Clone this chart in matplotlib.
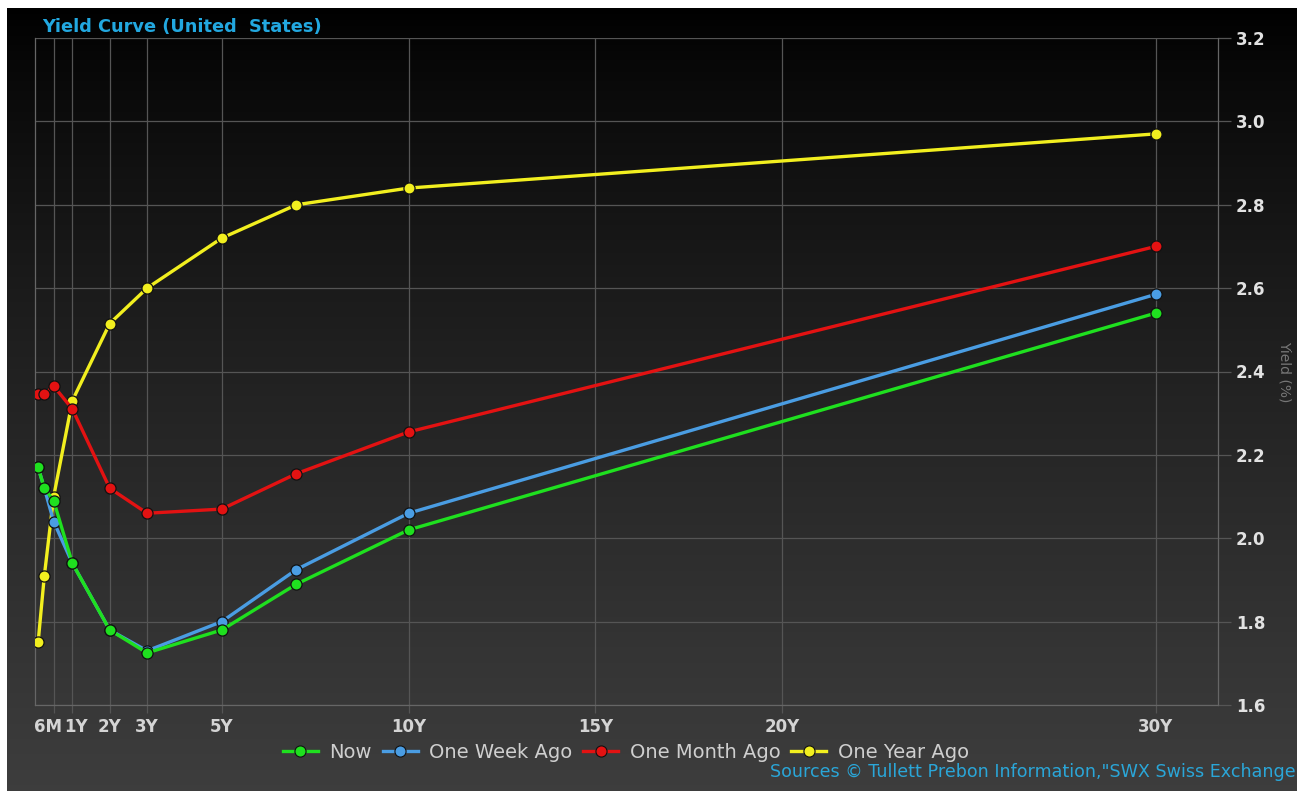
import numpy as np
import matplotlib.pyplot as plt
import matplotlib.transforms as mtransforms
from matplotlib.lines import Line2D

# maturities in years
maturities = [1/12, 0.25, 0.5, 1, 2, 3, 5, 7, 10, 30]

now = [2.17, 2.12, 2.09, 1.94, 1.78, 1.725, 1.78, 1.89, 2.02, 2.54]
week_ago = [2.17, 2.12, 2.04, 1.94, 1.78, 1.73, 1.80, 1.925, 2.06, 2.585]
month_ago = [2.345, 2.345, 2.365, 2.31, 2.12, 2.06, 2.07, 2.155, 2.255, 2.70]
year_ago = [1.75, 1.91, 2.10, 2.33, 2.515, 2.60, 2.72, 2.80, 2.84, 2.97]

tick_pos = [0.5, 1, 2, 3, 5, 10, 15, 20, 30]
tick_labels = ['6M', '1Y', '2Y', '3Y', '5Y', '10Y', '15Y', '20Y', '30Y']
y_ticks = [1.6, 1.8, 2.0, 2.2, 2.4, 2.6, 2.8, 3.0, 3.2]

series = [
    ('Now', now, '#1fe01f'),
    ('One Week Ago', week_ago, '#4a9de3'),
    ('One Month Ago', month_ago, '#e31212'),
    ('One Year Ago', year_ago, '#f2ef1f'),
]

plt.rcParams['font.family'] = ['DejaVu Sans']

W, H = 1297, 791
fig = plt.figure(figsize=(W / 100, H / 100), dpi=100, facecolor='white')

# dark gradient background (white strip left/top like the screenshot)
bg = fig.add_axes([7 / W, 0, 1 - 7 / W, 1 - 8 / H])
grad = np.linspace(0, 1, 256).reshape(-1, 1)
top = np.array([0.0, 0.0, 0.0])
bot = np.array([0.24, 0.24, 0.24])
img = top + (bot - top) * (grad ** 0.8)[:, :, None]
bg.imshow(img, aspect='auto', extent=[0, 1, 0, 1], origin='upper')
bg.set_axis_off()

ax = fig.add_axes([35 / W, 1 - 705 / H, (1218 - 35) / W, (705 - 38) / H])
ax.set_facecolor('none')

# draw oldest first so "Now" sits on top
for name, vals, col in reversed(series):
    ax.plot(maturities, vals, color=col, lw=2.4, marker='o', markersize=8,
            markerfacecolor=col, markeredgecolor='#111111', markeredgewidth=0.9,
            zorder=3)

ax.set_xlim(0, 31.67)
ax.set_ylim(1.6, 3.2)
ax.set_xticks(tick_pos)
ax.set_xticklabels(tick_labels)
ax.set_yticks(y_ticks)
ax.set_yticklabels([f'{v:.1f}' for v in y_ticks])
ax.yaxis.tick_right()
ax.grid(True, color='#555555', lw=0.9)
ax.tick_params(axis='x', colors='#555555', length=6, width=0.9, pad=3,
               labelcolor='#d4d4d4', labelsize=12)
ax.tick_params(axis='y', colors='#555555', length=9, width=0.9, pad=4,
               labelcolor='#e2e2e2', labelsize=12)
for lbl in ax.get_xticklabels() + ax.get_yticklabels():
    lbl.set_fontweight('bold')

# 6M and 1Y sit very close: push them apart so they read "6M1Y"
xl = ax.get_xticklabels()
xl[0].set_ha('right')
xl[0].set_transform(xl[0].get_transform() +
                    mtransforms.ScaledTranslation(8 / 100, 0, fig.dpi_scale_trans))
xl[1].set_ha('left')
xl[1].set_transform(xl[1].get_transform() +
                    mtransforms.ScaledTranslation(-8 / 100, 0, fig.dpi_scale_trans))

ax.spines['top'].set_visible(False)
for s in ['left', 'right', 'bottom']:
    ax.spines[s].set_color('#666666')
    ax.spines[s].set_linewidth(0.9)

fig.text(1285 / W, 1 - 372 / H, 'Yield (%)', rotation=270, color='#777777',
         fontsize=10, ha='center', va='center')

fig.text(42 / W, 1 - 27 / H, 'Yield Curve (United  States)', color='#22a8e0',
         fontsize=12.8, fontweight='bold', ha='left', va='center')

handles = [Line2D([], [], color=col, lw=2.4, marker='o', markersize=8,
                  markerfacecolor=col, markeredgecolor='#111111',
                  markeredgewidth=0.8) for _, _, col in series]
fig.legend(handles, [s[0] for s in series], loc='center',
           bbox_to_anchor=(626 / W, 1 - 752 / H), ncol=4, frameon=False,
           labelcolor='#cfcfcf', fontsize=14, handlelength=1.8,
           handletextpad=0.6, columnspacing=0.55)

fig.text(1296 / W, 1 - 772 / H,
         'Sources \u00a9 Tullett Prebon Information,"SWX Swiss Exchange',
         color='#2aa6d8', fontsize=12.6, ha='right', va='center')

fig.savefig('out.png', dpi=100, facecolor=fig.get_facecolor())
